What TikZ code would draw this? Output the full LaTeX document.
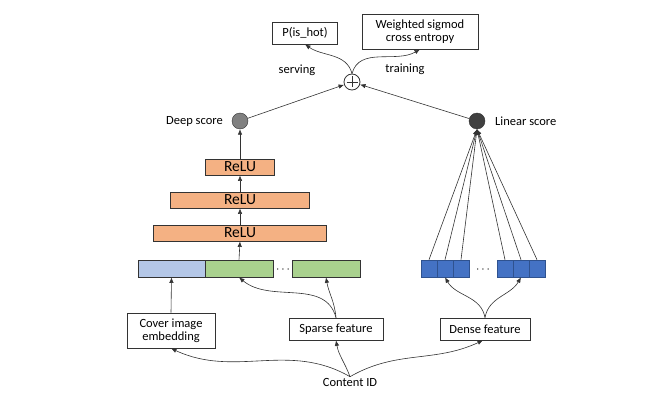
\documentclass[tikz,border=0pt]{standalone}
\usepackage{fontspec}
\setmainfont{Carlito}
\usetikzlibrary{arrows.meta}

\definecolor{embblue}{HTML}{B4C7E7}
\definecolor{featgreen}{HTML}{A9D18E}
\definecolor{reluorange}{HTML}{F4B183}
\definecolor{denseblue}{HTML}{4472C4}
\definecolor{denseedge}{HTML}{2F528F}
\definecolor{linecol}{HTML}{333333}

\tikzset{
  conn/.style={draw=linecol, line width=0.6pt, -{Latex[length=5.5pt,width=4.5pt]}},
  textbox/.style={draw=linecol, line width=0.7pt, fill=white, align=center, inner sep=1pt, font=\fontsize{12.5}{13}\selectfont},
  relubox/.style={draw=linecol, line width=0.8pt, fill=reluorange, minimum height=16pt, inner sep=0pt, font=\fontsize{15.5}{15.5}\selectfont},
  cell/.style={draw=linecol, line width=0.7pt, minimum height=17pt, inner sep=0pt},
  densecell/.style={draw=denseedge, line width=0.6pt, fill=denseblue, minimum width=16pt, minimum height=17pt, inner sep=0pt},
  label/.style={font=\fontsize{12.5}{13}\selectfont, inner sep=1pt}
}

\begin{document}
\begin{tikzpicture}[x=1pt, y=1pt]
  % Fix the page size
  \useasboundingbox (0,0) rectangle (669,-417);

  % Output boxes and the sum
  \node[textbox, minimum width=65pt, minimum height=22pt] (hot) at (305,-33) {P(is\_hot)};
  \node[textbox, minimum width=116pt, minimum height=35pt] (loss) at (420,-31.5) {Weighted sigmod\\cross entropy};
  \node[circle, draw=linecol, line width=0.8pt, fill=white, minimum size=16pt, inner sep=0pt] (plus) at (352,-82) {};
  \draw[linecol, line width=0.8pt] ([yshift=5.5pt]plus.center) -- ([yshift=-5.5pt]plus.center);
  \draw[linecol, line width=0.8pt] ([xshift=-5.5pt]plus.center) -- ([xshift=5.5pt]plus.center);
  \node[label] (serving) at (297,-70) {serving};
  \node[label] (training) at (405,-69) {training};

  % Scores
  \node[circle, draw=linecol, fill=gray, minimum size=16pt, inner sep=0pt] (deep) at (240,-121) {};
  \node[circle, draw=linecol, fill=black!75, minimum size=16pt, inner sep=0pt] (linear) at (477,-121) {};
  \node[label, anchor=east] (deeptxt) at (224,-121) {Deep score};
  \node[label, anchor=west] (lineartxt) at (494,-121) {Linear score};

  % Deep part
  \node[relubox, minimum width=69pt] (relu1) at (240,-167) {ReLU};
  \node[relubox, minimum width=139pt] (relu2) at (240,-200) {ReLU};
  \node[relubox, minimum width=173pt] (relu3) at (240,-233) {ReLU};
  \node[cell, fill=embblue, minimum width=67pt] (emb) at (171.5,-268.5) {};
  \node[cell, fill=featgreen, minimum width=68pt] (sparse1) at (239,-268.5) {};
  \node[label] (dotsA) at (283,-270) {$\cdots$};
  \node[cell, fill=featgreen, minimum width=68pt] (sparse2) at (326,-268.5) {};

  % Wide part
  \foreach \i/\x in {1/429, 2/445, 3/461, 4/505, 5/521, 6/537}
    \node[densecell] (d\i) at (\x,-268.5) {};
  \node[label] (dotsB) at (483,-270) {$\cdots$};
  \foreach \i in {1,...,6}
    \draw[conn] (d\i.north) -- (linear.south);

  % Inputs
  \node[textbox, minimum width=88pt, minimum height=35pt] (cover) at (171,-330.5) {Cover image\\embedding};
  \node[textbox, minimum width=94pt, minimum height=22pt] (sparsetxt) at (336,-329) {Sparse feature};
  \node[textbox, minimum width=90pt, minimum height=22pt] (densetxt) at (485,-329) {Dense feature};
  \node[label] (cid) at (350,-382) {Content ID};

  % Connections
  \draw[conn] (cid.north) to[out=150, in=-25] (cover.south);
  \draw[conn] (cid.north) to[out=110, in=-80] (sparsetxt.south);
  \draw[conn] (cid.north) to[out=30, in=-155] ([xshift=-2pt]densetxt.south);
  \draw[conn] (cover.north) -- (emb.south);
  \draw[conn] (sparsetxt.north) to[out=105, in=-40] (sparse1.south);
  \draw[conn] (sparsetxt.north) to[out=95, in=-80] (sparse2.south);
  \draw[conn] (densetxt.north) to[out=100, in=-60] (d2.south);
  \draw[conn] (densetxt.north) to[out=80, in=-120] (d5.south);
  \draw[conn] (sparse1.north) -- (relu3.south);
  \draw[conn] (relu3.north) -- (relu2.south);
  \draw[conn] (relu2.north) -- (relu1.south);
  \draw[conn] (relu1.north) -- (deep.south);
  \draw[conn] (deep) -- (plus);
  \draw[conn] (linear) -- (plus);
  \draw[conn] (plus.north) to[out=105, in=-35] (hot.south);
  \draw[conn] (plus.north) to[out=75, in=-150] (loss.south);
\end{tikzpicture}
\end{document}
